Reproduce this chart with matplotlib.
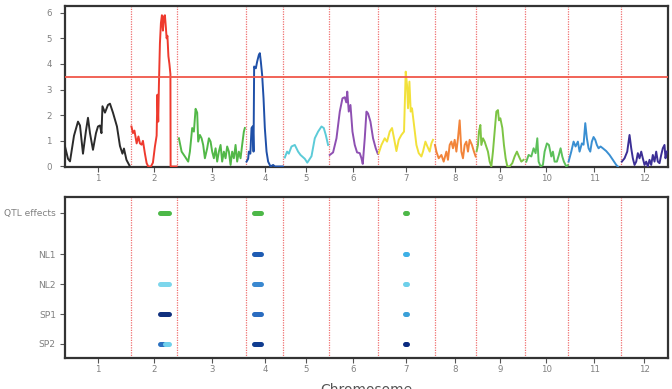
import matplotlib
matplotlib.use("Agg")
import matplotlib.pyplot as plt
import numpy as np

# ---------------- data ----------------
chrom_names = ["1", "2", "3", "4", "5", "6", "7", "8", "9", "10", "11", "12"]
chrom_len = [132, 93, 138, 74, 91, 98, 114, 83, 97, 87, 105, 95]  # cM
threshold = 3.5

chr1_pos = [0, 6, 10, 18, 26, 30, 36, 42, 46, 50, 56, 62, 66, 70, 73, 75, 80, 86, 90, 96, 104, 110, 115, 118, 123, 130]
chr1_lod = [0.78, 0.3, 0.2, 1.2, 1.75, 1.6, 0.5, 1.4, 1.9, 1.3, 0.65, 1.3, 1.56, 1.6, 1.3, 2.35, 2.1, 2.4, 2.45, 2.1, 1.56, 0.8, 0.5, 0.7, 0.26, 0.0]
chr2_pos = [1, 4, 7, 11.4, 15, 18, 21.4, 24, 28, 31.4, 34.6, 40, 44, 48, 51.4, 53, 54.6, 56, 58, 60, 62, 64, 66, 68, 70, 71.4, 73, 75, 77, 79, 79.4, 91.4]
chr2_lod = [1.56, 1.3, 1.4, 0.9, 1.17, 0.9, 0.85, 1.0, 0.5, 0.13, 0.0, 0.0, 0.15, 0.78, 1.2, 2.8, 1.75, 3.2, 4.8, 5.6, 5.9, 5.3, 5.85, 5.9, 5.4, 5.0, 5.1, 4.3, 4.0, 3.6, 0.0, 0.0]
chr3_pos = [3, 8.4, 15, 21.6, 25, 29.6, 33, 36.4, 39.6, 41.6, 45, 48.4, 51.6, 55, 59.6, 63, 66.4, 69.6, 73, 76.4, 79.6, 83, 86.4, 89.6, 93, 96.4, 99.6, 103, 106.4, 109.6, 113, 116.4, 119.6, 123, 126.4, 129.6, 133, 135]
chr3_lod = [1.1, 0.58, 0.39, 0.19, 0.58, 1.5, 1.36, 2.25, 2.1, 0.97, 1.23, 1.1, 0.84, 0.32, 0.71, 1.1, 0.97, 0.58, 0.32, 0.71, 0.19, 0.58, 0.84, 0.19, 0.58, 0.32, 0.78, 0.58, 0.06, 0.58, 0.32, 0.84, 0.19, 0.58, 0.32, 0.84, 1.36, 1.5]
chr4_pos = [0.4, 3.6, 5, 8, 10.4, 13, 14.4, 15.6, 19, 21.6, 25, 27, 29, 31.6, 34.4, 37, 40.4, 43.6, 48.4, 53.6, 57, 63.6, 73]
chr4_lod = [0.19, 0.3, 0.58, 0.5, 1.5, 1.57, 0.58, 3.9, 3.83, 4.09, 4.35, 4.42, 4.09, 3.57, 2.66, 1.5, 0.58, 0.19, 0.0, 0.06, 0.0, 0.0, 0.0]
chr5_pos = [3, 7.6, 11, 16.4, 23, 29.6, 34.4, 43, 48, 56.4, 63, 69.6, 76.4, 81, 85, 89.6]
chr5_lod = [0.35, 0.58, 0.5, 0.78, 0.84, 0.58, 0.45, 0.3, 0.15, 0.4, 1.1, 1.36, 1.56, 1.5, 1.23, 0.84]
chr6_pos = [2, 8.6, 15.4, 22, 27.4, 32, 35, 37, 40, 43.4, 47.4, 52, 56.6, 62, 65.4, 68, 72, 75.4, 78.6, 83.4, 88.6, 94, 98]
chr6_lod = [0.45, 0.55, 1.1, 2.14, 2.66, 2.7, 2.5, 2.92, 2.14, 2.4, 1.36, 0.84, 0.55, 0.52, 0.32, 0.1, 1.1, 2.14, 2.07, 1.75, 1.1, 0.71, 0.5]
chr7_pos = [2, 7.4, 14, 18.6, 24, 28.6, 32.6, 37.4, 42, 47.4, 52.6, 56, 58.6, 60.6, 63.4, 66, 68.6, 72.6, 77.4, 82, 87.4, 90.6, 95.4, 99.4, 104, 107.4, 110.6]
chr7_lod = [0.52, 0.84, 1.1, 0.97, 1.36, 1.5, 1.1, 0.6, 1.04, 1.23, 1.36, 3.7, 3.18, 2.27, 3.31, 2.14, 2.27, 1.62, 0.84, 0.52, 0.39, 0.58, 0.97, 0.78, 0.58, 0.9, 1.04]
chr8_pos = [0.6, 3.4, 8, 13.4, 18, 23.4, 26.6, 30, 33.4, 36.6, 40, 43.4, 46.6, 50, 53.4, 56.6, 60, 63.4, 66.6, 70, 74.6, 78.6, 82]
chr8_lod = [0.84, 0.58, 0.32, 0.45, 0.19, 0.58, 0.26, 0.84, 0.97, 0.71, 1.04, 0.58, 1.1, 1.8, 0.58, 0.32, 0.84, 0.97, 0.58, 1.04, 0.84, 0.58, 0.39]
chr9_pos = [1, 3.6, 5.6, 8.4, 10.4, 13.6, 17, 23.6, 27, 30.4, 33.6, 37, 40.4, 43.6, 45.6, 48.4, 52.4, 55.6, 59, 62.4, 67, 72.4, 77, 81.6, 85.6, 90.4, 95]
chr9_lod = [0.6, 0.84, 1.36, 1.62, 0.84, 1.1, 0.97, 0.58, 0.19, 0.0, 0.58, 1.36, 2.14, 2.2, 1.8, 1.88, 1.5, 0.84, 0.32, 0.0, 0.0, 0.13, 0.39, 0.58, 0.39, 0.19, 0.26]
chr10_pos = [3.4, 8, 13.4, 18, 22, 25.4, 28, 32, 36.6, 40, 44.6, 48.6, 53.4, 56.6, 60, 64.6, 68.6, 72, 75.4, 78.6, 83.4, 86.6]
chr10_lod = [0.19, 0.45, 0.39, 0.71, 0.52, 1.1, 0.19, 0.0, 0.06, 0.58, 0.9, 0.84, 0.39, 0.58, 0.19, 0.19, 0.45, 0.71, 0.39, 0.19, 0.0, 0.05]
chr11_pos = [1, 6.4, 11, 15, 19.6, 23, 27.6, 31, 34.4, 37.6, 41, 44.4, 47.6, 51, 54.4, 57.6, 61, 65, 69.6, 76.4, 83, 89.6, 96.4, 99.6]
chr11_lod = [0.19, 0.58, 0.97, 0.78, 0.97, 0.58, 0.9, 0.85, 1.69, 1.1, 0.71, 0.58, 0.97, 1.15, 1.04, 0.84, 0.71, 0.78, 0.71, 0.6, 0.45, 0.26, 0.06, 0.0]
chr12_pos = [2.6, 8, 13.4, 18, 21.4, 24.6, 28, 31.4, 34.6, 38, 41.4, 44.6, 48, 51.4, 54.6, 58, 61.4, 64.6, 68, 71.4, 74.6, 78, 81.4, 84.6, 88, 90, 92.6]
chr12_lod = [0.19, 0.32, 0.58, 1.23, 0.71, 0.32, 0.06, 0.19, 0.52, 0.32, 0.58, 0.32, 0.06, 0.19, 0.0, 0.26, 0.06, 0.45, 0.19, 0.58, 0.19, 0.13, 0.45, 0.71, 0.84, 0.32, 0.58]

chrom_colors = ["#2b2b2b", "#ee3a2e", "#52b848", "#1f50a8", "#5ccbd8", "#8e50b2",
                "#f2e13a", "#f2843a", "#7cc444", "#5cc05a", "#3a8fd2", "#3c2f96"]

# lower panel: QTL effects per trait (chromosome index, start cM, end cM, colour)
trait_names = ["SP2", "SP1", "NL2", "NL1", "QTL effects"]
trait_y = [1, 2, 3, 4, 5.4]
qtl_chrom = [1, 1, 3, 3, 3, 3, 3, 6, 6, 6, 6, 6, 1, 1, 1]
qtl_trait = ["QTL effects", "SP1", "QTL effects", "NL1", "NL2", "SP1", "SP2",
             "QTL effects", "NL1", "NL2", "SP1", "SP2", "NL2", "SP2", "SP2"]
qtl_start = [59, 59, 16, 16, 16, 16, 16, 55.5, 55.5, 55.5, 55.5, 55.5, 59, 59, 68]
qtl_end = [77, 77, 30, 30, 30, 30, 30, 58, 58, 58, 58, 58, 77, 68, 77]
qtl_color = ["#4db848", "#10307e", "#4db848", "#1e5cb3", "#3a88d0", "#2a6cc0", "#103c90",
             "#4db848", "#3db0e6", "#6dd0ea", "#3aa0d8", "#0a2a80", "#7dd6ec", "#2a70c0", "#70d0ec"]

# ---------------- plotting ----------------
all_pos = [chr1_pos, chr2_pos, chr3_pos, chr4_pos, chr5_pos, chr6_pos,
           chr7_pos, chr8_pos, chr9_pos, chr10_pos, chr11_pos, chr12_pos]
all_lod = [chr1_lod, chr2_lod, chr3_lod, chr4_lod, chr5_lod, chr6_lod,
           chr7_lod, chr8_lod, chr9_lod, chr10_lod, chr11_lod, chr12_lod]

offsets = np.concatenate([[0], np.cumsum(chrom_len)])
total = offsets[-1]
centers = (offsets[:-1] + offsets[1:]) / 2
bounds = offsets[1:-1]

W, H = 672, 389
fig = plt.figure(figsize=(W / 100, H / 100), dpi=100)
ax1 = fig.add_axes([65 / W, 1 - 167 / H, 603 / W, 161 / H])
ax2 = fig.add_axes([65 / W, 1 - 358.3 / H, 603 / W, 161 / H])

frame_col = "#333333"
tick_col = "#808080"
for ax in (ax1, ax2):
    for s in ax.spines.values():
        s.set_linewidth(1.6)
        s.set_color(frame_col)
    ax.set_xlim(0, total)
    ax.set_xticks(centers)
    ax.set_xticklabels(chrom_names)
    ax.tick_params(axis="both", labelsize=6.2, labelcolor=tick_col, color="#555555",
                   length=3.5, width=0.8, direction="out")
    ax.tick_params(axis="x", pad=1.5)
    for b in bounds:
        ax.axvline(b, color="#f07070", lw=0.9, ls=(0, (1, 1)), zorder=1)

for i in range(12):
    x = offsets[i] + np.array(all_pos[i])
    ax1.plot(x, all_lod[i], color=chrom_colors[i], lw=1.4, zorder=3)
ax1.axhline(threshold, color="#f0574a", lw=1.3, zorder=4)
ax1.set_ylim(-0.02, 6.26)
ax1.set_yticks(range(0, 7))
ax1.tick_params(axis="y", pad=6)

for c, t, s, e, col in zip(qtl_chrom, qtl_trait, qtl_start, qtl_end, qtl_color):
    y = trait_y[trait_names.index(t)]
    ax2.plot([offsets[c] + s, offsets[c] + e], [y, y], color=col, lw=3.6,
             solid_capstyle="round", zorder=3)
ax2.set_ylim(0.52, 5.91)
ax2.set_yticks(trait_y)
ax2.set_yticklabels(trait_names)
ax2.tick_params(axis="y", pad=3, labelsize=6.6)

fig.text(366 / W, 1 - 382.5 / H, "Chromosome", ha="center", va="top", fontsize=10, color="#555555")

fig.savefig("out.png", dpi=100)
